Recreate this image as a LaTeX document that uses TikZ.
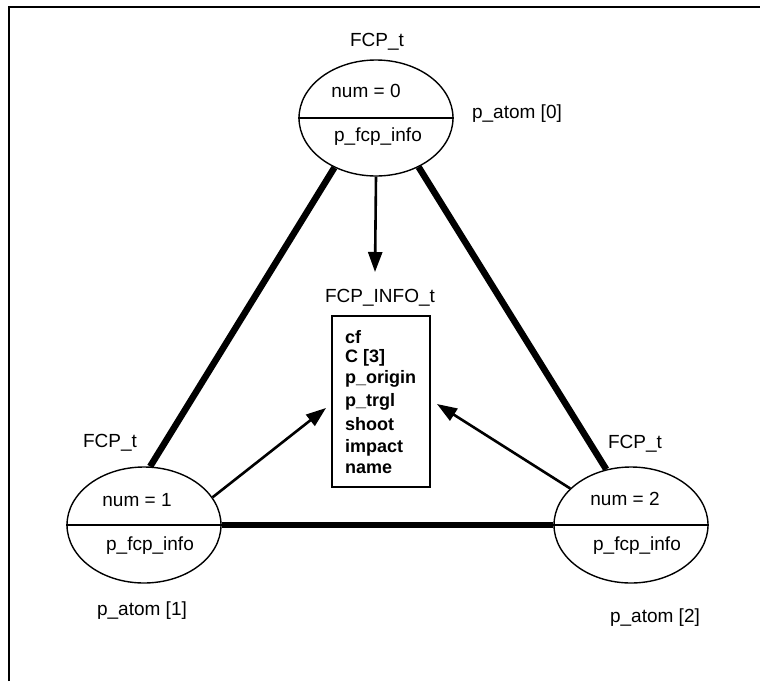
\documentclass[tikz,border=0pt]{standalone}
\usepackage{fontspec}
\setmainfont{Liberation Sans}
\usetikzlibrary{shapes.geometric,arrows.meta}
\begin{document}
\begin{tikzpicture}[x=1pt,y=-1pt,
  atom/.style={draw,ellipse,line width=1.4pt,minimum width=154pt,minimum height=116pt,inner sep=0pt},
  lbl/.style={font=\fontsize{19}{22}\selectfont,inner sep=0pt},
  fld/.style={font=\fontsize{18}{21}\selectfont\bfseries,inner sep=0pt,anchor=west},
  link/.style={line width=6.5pt},
  ptr/.style={line width=2.6pt,-{Triangle[length=20pt,width=14pt]}},
  divider/.style={line width=1.4pt}]
\useasboundingbox (0,0) rectangle (760,683);
% frame
\draw[line width=2.2pt] (9,681) -- (9,7) -- (760,7);
% atoms
\node[atom] (e0) at (376,118) {};
\node[atom] (e1) at (144,525) {};
\node[atom] (e2) at (631,525) {};
\draw[divider] (e0.west) -- (e0.east);
\draw[divider] (e1.west) -- (e1.east);
\draw[divider] (e2.west) -- (e2.east);
% labels atom 0
\node[lbl] (t0) at (377,42) {FCP\_t};
\node[lbl] (n0) at (366,91) {num = 0};
\node[lbl] (p0) at (378,137) {p\_fcp\_info};
\node[lbl] (a0) at (517,114) {p\_atom [0]};
% labels atom 1
\node[lbl] (t1) at (110,443) {FCP\_t};
\node[lbl] (n1) at (137,500) {num = 1};
\node[lbl] (p1) at (150,546) {p\_fcp\_info};
\node[lbl] (a1) at (142,611) {p\_atom [1]};
% labels atom 2
\node[lbl] (t2) at (635,444) {FCP\_t};
\node[lbl] (n2) at (625,499) {num = 2};
\node[lbl] (p2) at (637,546) {p\_fcp\_info};
\node[lbl] (a2) at (655,618) {p\_atom [2]};
% info box
\node[draw,line width=1.4pt,minimum width=98pt,minimum height=171pt,inner sep=0pt] (box) at (381,401.5) {};
\node[lbl] (bt) at (380,298) {FCP\_INFO\_t};
\node[fld] (f1) at (345,337) {cf};
\node[fld] (f2) at (345,358) {C [3]};
\node[fld] (f3) at (345,379) {p\_origin};
\node[fld] (f4) at (345,402) {p\_trgl};
\node[fld] (f5) at (345,424) {shoot};
\node[fld] (f6) at (345,448) {impact};
\node[fld] (f7) at (345,469) {name};
% links
\draw[link] (e0.230) -- (e1.84);
\draw[link] (e0.311) -- (e2.114);
\draw[link] (e1.east) -- (e2.west);
% pointers
\coordinate (tip0) at (375,272);
\coordinate (tip1) at (326,408);
\coordinate (tip2) at (437,404);
\draw[ptr] (e0.south) -- (tip0);
\draw[ptr] (e1.22) -- (tip1);
\draw[ptr] (e2.149) -- (tip2);
\end{tikzpicture}
\end{document}
